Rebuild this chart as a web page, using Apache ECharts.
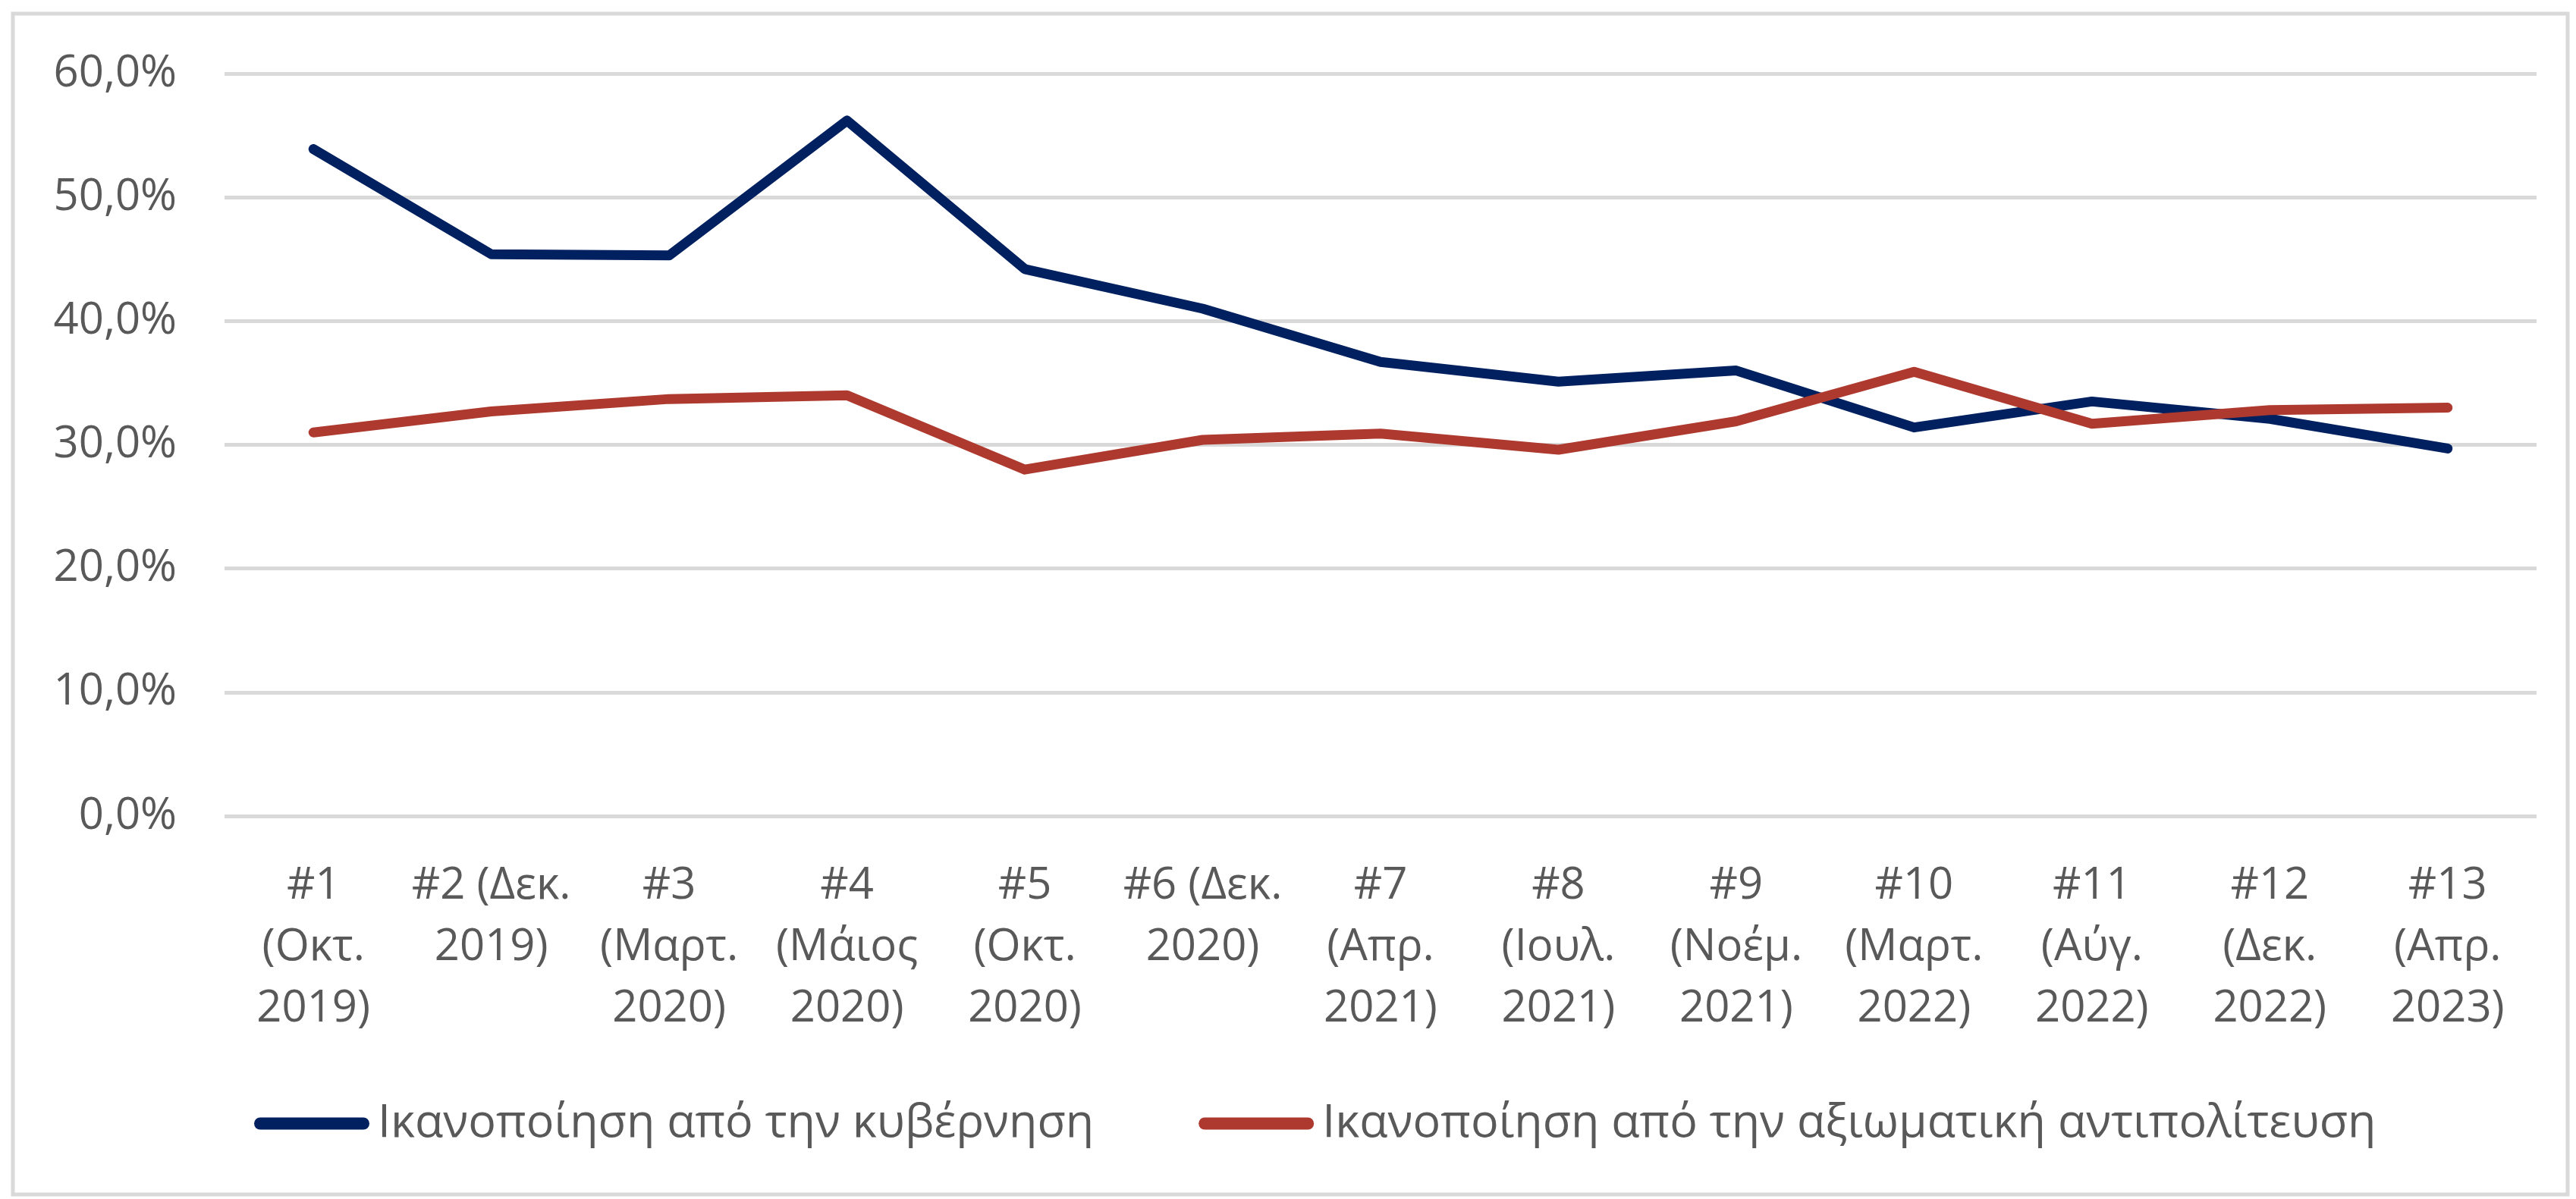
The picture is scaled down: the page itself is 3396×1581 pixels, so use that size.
<!DOCTYPE html>
<html>
<head>
<meta charset="utf-8">
<script src="https://cdn.jsdelivr.net/npm/echarts@6/dist/echarts.min.js"></script>
<style>
  html, body { margin: 0; padding: 0; background: #fff; }
  #main { width: 3396px; height: 1581px; }
</style>
</head>
<body>
<div id="main"></div>
<script>
var categories = [
  '#1\n(Οκτ.\n2019)', '#2 (Δεκ.\n2019)', '#3\n(Μαρτ.\n2020)', '#4\n(Μάιος\n2020)',
  '#5\n(Οκτ.\n2020)', '#6 (Δεκ.\n2020)', '#7\n(Απρ.\n2021)', '#8\n(Ιουλ.\n2021)',
  '#9\n(Νοέμ.\n2021)', '#10\n(Μαρτ.\n2022)', '#11\n(Αύγ.\n2022)', '#12\n(Δεκ.\n2022)',
  '#13\n(Απρ.\n2023)'
];
var govName = 'Ικανοποίηση από την κυβέρνηση';
var oppName = 'Ικανοποίηση από την αξιωματική αντιπολίτευση';
var govValues = [53.9, 45.4, 45.3, 56.2, 44.2, 41.0, 36.7, 35.1, 36.0, 31.4, 33.5, 32.1, 29.7];
var oppValues = [31.0, 32.7, 33.7, 34.0, 28.0, 30.4, 30.9, 29.6, 31.9, 35.9, 31.7, 32.8, 33.0];

var myChart = echarts.init(document.getElementById('main'));

var font = "'Open Sans', sans-serif";
var textColor = '#595959';
var pill = 'path://M8,0 L144,0 A8,8 0 0 1 144,16 L8,16 A8,8 0 0 1 8,0 Z';

var option = {
  animation: false,
  graphic: [{
    type: 'rect',
    shape: { x: 17, y: 18, width: 3368, height: 1557 },
    style: { fill: 'none', stroke: '#d9d9d9', lineWidth: 5 }
  }],
  grid: { left: 296, right: 52, top: 97, bottom: 505 },
  legend: {
    left: 330,
    top: 1446,
    icon: pill,
    itemWidth: 152,
    itemHeight: 16,
    itemGap: 138,
    data: [govName, oppName],
    textStyle: {
      fontFamily: font,
      fontSize: 61,
      color: textColor,
      padding: [0, 0, 0, 6]
    }
  },
  xAxis: {
    type: 'category',
    data: categories,
    axisLine: { show: false },
    axisTick: { show: false },
    axisLabel: {
      interval: 0,
      margin: 52,
      fontFamily: font,
      fontSize: 58,
      lineHeight: 81,
      color: textColor
    }
  },
  yAxis: {
    type: 'value',
    min: 0,
    max: 60,
    interval: 10,
    axisLine: { show: false },
    axisTick: { show: false },
    splitLine: { lineStyle: { color: '#d9d9d9', width: 5 } },
    axisLabel: {
      margin: 63,
      fontFamily: font,
      fontSize: 58,
      color: textColor,
      formatter: function (value) {
        return value.toFixed(1).replace('.', ',') + '%';
      }
    }
  },
  series: [
    {
      name: govName,
      type: 'line',
      data: govValues,
      symbol: 'none',
      color: '#002060',
      lineStyle: { width: 13, cap: 'round', join: 'round' }
    },
    {
      name: oppName,
      type: 'line',
      data: oppValues,
      symbol: 'none',
      color: '#ae3a2f',
      lineStyle: { width: 13, cap: 'round', join: 'round' }
    }
  ]
};

myChart.setOption(option);
</script>
</body>
</html>
